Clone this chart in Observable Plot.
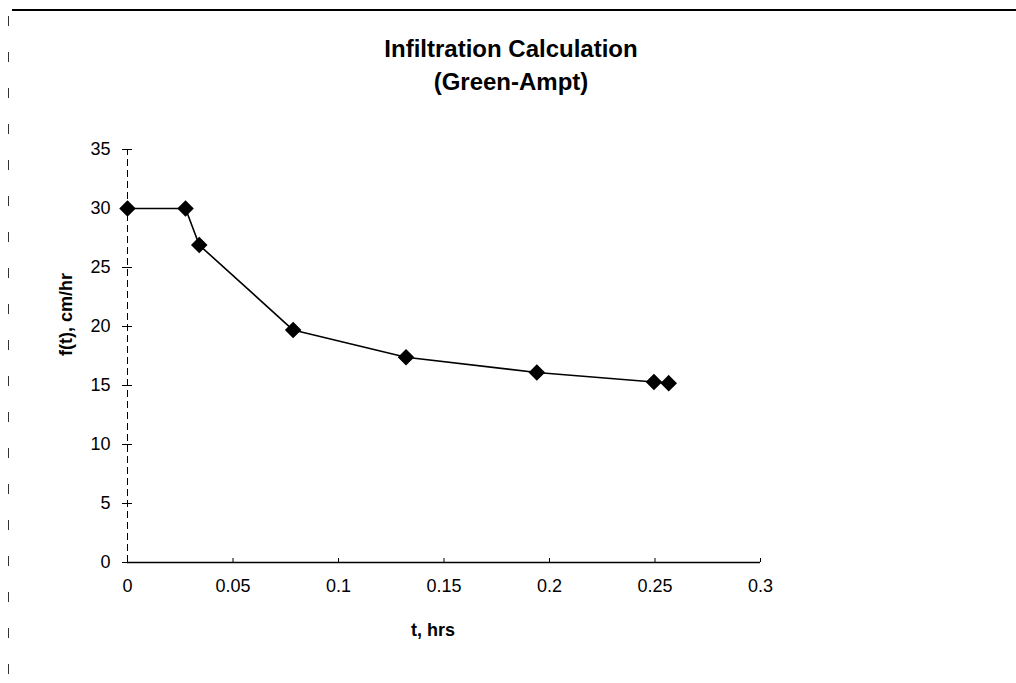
<!DOCTYPE html>
<html>
<head>
<meta charset="utf-8">
<script src="https://cdn.jsdelivr.net/npm/d3@7"></script>
<script src="https://cdn.jsdelivr.net/npm/@observablehq/plot@0.6"></script>
<style>
  html, body { margin: 0; padding: 0; background: #fff; }
  #page { position: relative; width: 1016px; height: 683px; overflow: hidden; background: #fff;
          font-family: "Liberation Sans", Arial, sans-serif; }
  #topline { position: absolute; left: 12px; top: 9px; width: 1004px; height: 2px; background: #000; z-index: 2; }
  #leftline { position: absolute; left: 8px; top: 16px; width: 1px; height: 667px; z-index: 2;
              background: repeating-linear-gradient(to bottom, #333 0, #333 10px, transparent 10px, transparent 36px); }
  #title { position: absolute; left: 0; top: 32px; width: 1022px; text-align: center;
           font-weight: bold; font-size: 24px; line-height: 33px; color: #000; }
  #chart { position: absolute; left: 0; top: 110px; }
</style>
</head>
<body>
<div id="page">
  <div id="topline"></div>
  <div id="leftline"></div>
  <div id="title">Infiltration Calculation<br>(Green-Ampt)</div>
  <div id="chart"></div>
</div>
<script>
// Data
const tHrs = [0, 0.0275, 0.034, 0.0785, 0.132, 0.194, 0.2495, 0.2565];
const fCmHr = [30, 30, 26.9, 19.7, 17.4, 16.1, 15.3, 15.2];
const xTicks = [0, 0.05, 0.1, 0.15, 0.2, 0.25, 0.3];
const xTickLabels = ["0", "0.05", "0.1", "0.15", "0.2", "0.25", "0.3"];
const yTicks = [0, 5, 10, 15, 20, 25, 30, 35];
const yTickLabels = ["0", "5", "10", "15", "20", "25", "30", "35"];
const xTitle = "t, hrs";
const yTitle = "f(t), cm/hr";

const data = tHrs.map((t, i) => ({t, f: fCmHr[i]}));

const chart = Plot.plot({
  width: 1016,
  height: 573,
  marginLeft: 127,
  marginRight: 256,
  marginTop: 39,
  marginBottom: 121,
  style: {fontFamily: "'Liberation Sans', Arial, sans-serif", fontSize: "18px", color: "#000", background: "transparent", overflow: "visible"},
  x: {domain: [0, 0.3], nice: false},
  y: {domain: [0, 35], nice: false},
  marks: [
    Plot.axisX(xTicks, {tickSize: 0, tickPadding: 17, tickFormat: (d, i) => xTickLabels[i], label: null, fontSize: 18}),
    Plot.axisY(yTicks, {tickSize: 0, tickPadding: 17, tickFormat: (d, i) => yTickLabels[i], label: null, fontSize: 18}),
    // axis lines
    Plot.ruleX([0], {y1: 0, y2: 35, stroke: "#000", strokeWidth: 1, strokeDasharray: "7,4"}),
    Plot.ruleY([0], {x1: 0, x2: 0.3, stroke: "#000", strokeWidth: 1.5}),
    // tick marks
    Plot.ruleY(yTicks, {y: d => d, x1: 0, x2: 0, insetLeft: -5, insetRight: -5, stroke: "#000", strokeWidth: 1}),
    Plot.ruleX(xTicks, {x: d => d, y1: 0, y2: 0, insetTop: -4, stroke: "#000", strokeWidth: 1}),
    // series
    Plot.line(data, {x: "t", y: "f", stroke: "#000", strokeWidth: 1.6}),
    Plot.dot(data, {x: "t", y: "f", symbol: "diamond2", r: 6.5, fill: "#000", stroke: "#000"}),
    // axis titles
    Plot.text([xTitle], {frameAnchor: "bottom", dx: -11, dy: 73, text: d => d, fontWeight: "bold", fontSize: 18}),
    Plot.text([yTitle], {frameAnchor: "left", dx: -61, rotate: -90, text: d => d, fontWeight: "bold", fontSize: 18})
  ]
});
document.getElementById("chart").appendChild(chart);
</script>
</body>
</html>
